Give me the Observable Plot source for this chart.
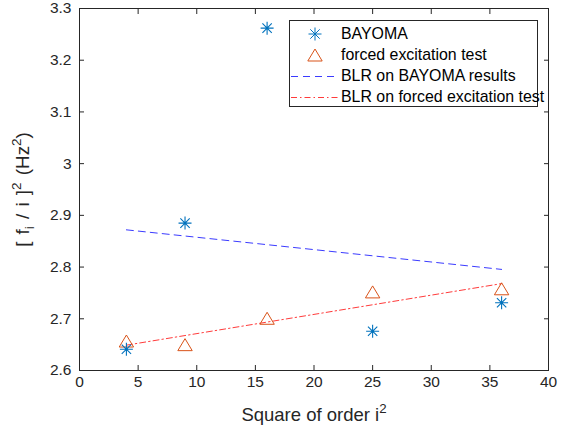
<!DOCTYPE html>
<html><head><meta charset="utf-8">
<script src="https://cdn.jsdelivr.net/npm/d3@7"></script>
<script src="https://cdn.jsdelivr.net/npm/@observablehq/plot@0.6"></script>
<style>
body{margin:0;background:#fff;}
#wrap{position:relative;width:561px;height:436px;font-family:"Liberation Sans",Arial,sans-serif;color:#262626;}
#legend{position:absolute;left:289px;top:20px;width:249px;height:87px;border:1px solid #262626;background:#fff;box-sizing:border-box;}
#legend .row{position:absolute;left:0;height:20px;white-space:nowrap;font-size:15.9px;line-height:20px;}
#legend .row svg{position:absolute;left:0;top:0;}
#legend .row span{position:absolute;left:51px;top:0;color:#000;}
</style></head><body><div id="wrap"></div>
<script>
// ---- data ----
const orders = [4, 9, 16, 25, 36];
const bayoma = [2.641, 2.885, 3.262, 2.676, 2.731];
const forced = [2.657, 2.650, 2.701, 2.752, 2.758];
const blrX = [4, 36];
const blrBayoma = [2.872, 2.7955];
const blrForced = [2.649, 2.768];
const xTicks = [0, 5, 10, 15, 20, 25, 30, 35, 40];
const yTicks = [2.6, 2.7, 2.8, 2.9, 3, 3.1, 3.2, 3.3];
const seriesNames = ["BAYOMA", "forced excitation test", "BLR on BAYOMA results", "BLR on forced excitation test"];
const xLabel = [["Square of order i", ""], ["2", "sup"]];
const yLabel = [["[ f", ""], ["i", "sub"], [" / i ]", ""], ["2", "sup"], [" (Hz", ""], ["2", "sup"], [")", ""]];

const cBlue = "#0072BD", cOrange = "#D95319", cLineB = "#3b3bff", cLineR = "#ff3b3b";

const star = {draw(ctx, size) {
  const r = Math.sqrt(size / Math.PI), d = r * 0.72;
  ctx.moveTo(0, -r); ctx.lineTo(0, r);
  ctx.moveTo(-r, 0); ctx.lineTo(r, 0);
  ctx.moveTo(-d, -d); ctx.lineTo(d, d);
  ctx.moveTo(-d, d); ctx.lineTo(d, -d);
}};
const tri = {draw(ctx, size) {
  const r = Math.sqrt(size / Math.PI);
  ctx.moveTo(0, -r); ctx.lineTo(r * 1.2, r); ctx.lineTo(-r * 1.2, r); ctx.closePath();
}};

const pts = orders.map((o, i) => ({x: o, b: bayoma[i], f: forced[i]}));
const lb = blrX.map((x, i) => ({x, y: blrBayoma[i]}));
const lf = blrX.map((x, i) => ({x, y: blrForced[i]}));

const chart = Plot.plot({
  width: 561, height: 436,
  marginLeft: 79, marginRight: 13, marginTop: 8, marginBottom: 66,
  style: {fontFamily: "'Liberation Sans', Arial, sans-serif", fontSize: "15.5px", color: "#262626", background: "white"},
  x: {domain: [0, 40]},
  y: {domain: [2.6, 3.3]},
  marks: [
    Plot.line(lb, {x: "x", y: "y", stroke: cLineB, strokeWidth: 1, strokeDasharray: "7,5"}),
    Plot.line(lf, {x: "x", y: "y", stroke: cLineR, strokeWidth: 1, strokeDasharray: "6,3,1.5,3"}),
    Plot.dot(pts, {x: "x", y: "f", symbol: tri, r: 6, stroke: cOrange, strokeWidth: 1, fill: "none"}),
    Plot.dot(pts, {x: "x", y: "b", symbol: star, r: 6.5, stroke: cBlue, strokeWidth: 1.1, fill: "none"}),
    Plot.frame({stroke: "#262626"}),
    Plot.axisX(xTicks, {anchor: "bottom", tickSize: -5, tickPadding: 10, tickFormat: d => String(d), label: "XLABEL", labelAnchor: "center", labelArrow: "none", labelOffset: 50, stroke: "#262626"}),
    Plot.axisX(xTicks, {anchor: "top", tickSize: -5, tickFormat: () => "", label: null, stroke: "#262626"}),
    Plot.axisY(yTicks, {anchor: "left", tickSize: -5, tickPadding: 13, tickFormat: d => String(d), label: "YLABEL", labelAnchor: "center", labelArrow: "none", labelOffset: 64, stroke: "#262626"}),
    Plot.axisY(yTicks, {anchor: "right", tickSize: -5, tickFormat: () => "", label: null, stroke: "#262626"})
  ]
});
document.getElementById("wrap").appendChild(chart);

function richText(textEl, parts, fs, ws) {
  const t = d3.select(textEl);
  t.text(null).attr("font-size", fs + "px").style("word-spacing", ws + "px");
  let shift = 0;
  for (const [s, kind] of parts) {
    const target = kind === "sup" ? -0.42 * fs : kind === "sub" ? 0.25 * fs : 0;
    const ts = t.append("tspan").text(s).attr("dy", (target - shift).toFixed(2));
    if (kind) ts.attr("font-size", (0.72 * fs).toFixed(2) + "px");
    shift = target;
  }
}
d3.select(chart).selectAll("text").each(function() {
  const s = this.textContent;
  if (s === "XLABEL") richText(this, xLabel, 18.5, 0);
  if (s === "YLABEL") richText(this, yLabel, 18.8, 2);
});

// legend
const legend = document.createElement("div");
legend.id = "legend";
const rowsTop = [3, 24, 45, 66];
seriesNames.forEach((name, i) => {
  const row = document.createElement("div");
  row.className = "row"; row.style.top = rowsTop[i] + "px";
  let g = "";
  if (i === 0) g = `<path d="M25,3.5V16.5M18.5,10H31.5M20.3,5.3L29.7,14.7M20.3,14.7L29.7,5.3" stroke="${cBlue}" fill="none"/>`;
  if (i === 1) g = `<path d="M25,4L32.2,16H17.8Z" stroke="${cOrange}" fill="none"/>`;
  if (i === 2) g = `<line x1="1" x2="48" y1="10.5" y2="10.5" stroke="${cLineB}" stroke-dasharray="7,5"/>`;
  if (i === 3) g = `<line x1="1" x2="48" y1="10.5" y2="10.5" stroke="${cLineR}" stroke-dasharray="6,3,1.5,3"/>`;
  row.innerHTML = `<svg width="50" height="20">${g}</svg><span>${name}</span>`;
  legend.appendChild(row);
});
document.getElementById("wrap").appendChild(legend);
</script></body></html>
